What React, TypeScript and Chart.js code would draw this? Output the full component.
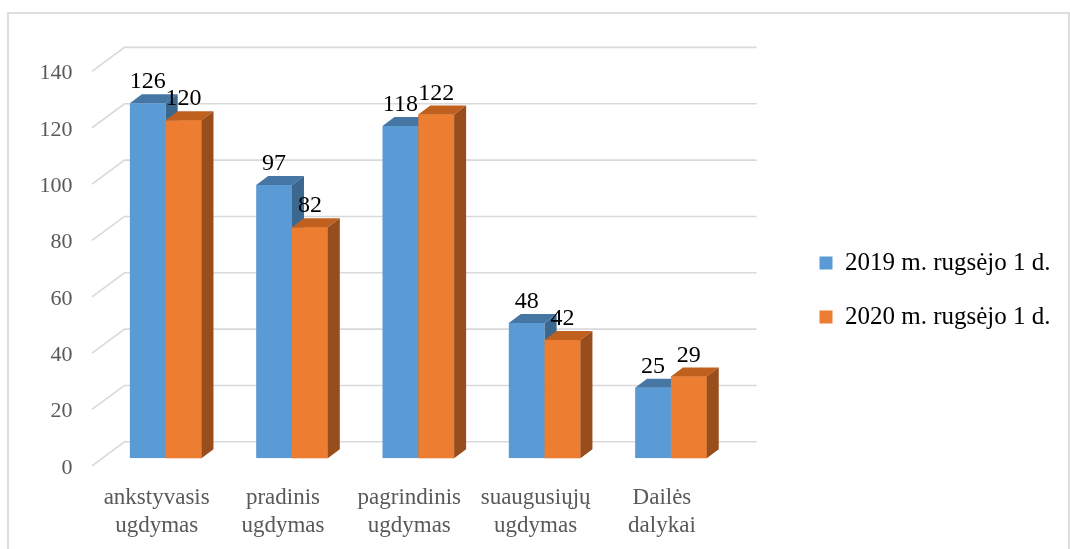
import React, { useEffect, useRef } from 'react';
import { Chart, registerables } from 'chart.js';

Chart.register(...registerables);

const categories: string[][] = [
  ['ankstyvasis', 'ugdymas'],
  ['pradinis', 'ugdymas'],
  ['pagrindinis', 'ugdymas'],
  ['suaugusiųjų', 'ugdymas'],
  ['Dailės', 'dalykai'],
];
const series2019: number[] = [126, 97, 118, 48, 25];
const series2020: number[] = [120, 82, 122, 42, 29];
const seriesNames: string[] = ['2019 m. rugsėjo 1 d.', '2020 m. rugsėjo 1 d.'];
const yMin = 0;
const yMax = 140;
const yStep = 20;

const FONT = "'Liberation Serif', 'Times New Roman', serif";
const FRONT = ['#5b9bd5', '#ed7d31'];
const TOP = ['#4676a4', '#bf601f'];
const SIDE = ['#3c6890', '#984d1c'];
const DX = 12;
const DY = -9;

const bar3d = {
  id: 'bar3d',
  beforeDatasetsDraw(chart: any) {
    const { ctx, chartArea } = chart;
    const y = chart.scales.y;
    ctx.save();
    ctx.strokeStyle = '#d9d9d9';
    ctx.lineWidth = 1.6;
    y.ticks.forEach((t: any) => {
      const py = y.getPixelForValue(t.value);
      ctx.beginPath();
      ctx.moveTo(chartArea.left - 10.5, py + 7.5);
      ctx.lineTo(chartArea.left + 22, py - 16.5);
      ctx.lineTo(chartArea.right + 22.5, py - 16.5);
      ctx.stroke();
    });
    ctx.restore();
  },
  afterDatasetsDraw(chart: any) {
    const ctx = chart.ctx;
    const faces = (di: number) => {
      const meta = chart.getDatasetMeta(di);
      meta.data.forEach((el: any) => {
        const { x, y, base, width } = el.getProps(['x', 'y', 'base', 'width'], true);
        const l = x - width / 2;
        const r = x + width / 2;
        ctx.save();
        ctx.fillStyle = TOP[di];
        ctx.beginPath();
        ctx.moveTo(l, y);
        ctx.lineTo(l + DX, y + DY);
        ctx.lineTo(r + DX, y + DY);
        ctx.lineTo(r, y);
        ctx.closePath();
        ctx.fill();
        ctx.fillStyle = SIDE[di];
        ctx.beginPath();
        ctx.moveTo(r, y);
        ctx.lineTo(r + DX, y + DY);
        ctx.lineTo(r + DX, base + DY);
        ctx.lineTo(r, base);
        ctx.closePath();
        ctx.fill();
        ctx.restore();
      });
    };
    faces(0);
    chart.getDatasetMeta(1).data.forEach((el: any) => el.draw(ctx));
    faces(1);
    ctx.save();
    ctx.fillStyle = '#000';
    ctx.font = `24px ${FONT}`;
    ctx.textAlign = 'center';
    ctx.textBaseline = 'alphabetic';
    [0, 1].forEach((di) => {
      const meta = chart.getDatasetMeta(di);
      const ds = chart.data.datasets[di];
      meta.data.forEach((el: any, i: number) => {
        const { x, y } = el.getProps(['x', 'y'], true);
        ctx.fillText(String(ds.data[i]), x, y - 15);
      });
    });
    ctx.restore();
  },
};

export default function App() {
  const ref = useRef<HTMLCanvasElement | null>(null);
  useEffect(() => {
    if (!ref.current) return;
    const chart = new Chart(ref.current, {
      type: 'bar',
      data: {
        labels: categories,
        datasets: [
          { label: seriesNames[0], data: series2019, backgroundColor: FRONT[0], borderWidth: 0, xAxisID: 'x', yAxisID: 'y' },
          { label: seriesNames[1], data: series2020, backgroundColor: FRONT[1], borderWidth: 0, xAxisID: 'x', yAxisID: 'y' },
        ],
      },
      options: {
        responsive: false,
        animation: false,
        devicePixelRatio: 1,
        layout: { padding: { left: 0, right: 16, top: 31, bottom: 0 } },
        datasets: { bar: { categoryPercentage: 0.567, barPercentage: 1 } },
        plugins: {
          legend: {
            position: 'right',
            labels: {
              boxWidth: 13,
              boxHeight: 13,
              padding: 29,
              color: '#000',
              font: { family: FONT, size: 25 },
            },
          },
          tooltip: { enabled: false },
          title: { display: false },
        },
        scales: {
          x: {
            position: 'bottom',
            grid: { display: false, drawTicks: false },
            border: { display: false },
            ticks: {
              color: '#595959',
              font: { family: FONT, size: 23, lineHeight: 1.2 },
              padding: 26,
              labelOffset: -9,
              maxRotation: 0,
              autoSkip: false,
            },
            afterFit: (s: any) => { s.height = 90.7; },
          },
          gapTop: {
            type: 'linear',
            axis: 'x',
            position: 'top',
            display: false,
            afterFit: (s: any) => { s.height = 32.9; },
          },
          y: {
            min: yMin,
            max: yMax,
            grid: { display: false, drawTicks: false },
            border: { display: false },
            ticks: {
              stepSize: yStep,
              color: '#595959',
              font: { family: FONT, size: 22 },
              padding: 30,
              labelOffset: 9.5,
            },
            afterFit: (s: any) => { s.width = 102.5; },
          },
          gapRight: {
            type: 'linear',
            axis: 'y',
            position: 'right',
            display: false,
            afterFit: (s: any) => { s.width = 56.4; },
          },
        },
      },
      plugins: [bar3d],
    } as any);
    return () => chart.destroy();
  }, []);
  return (
    <div style={{ position: 'absolute', left: 0, top: 0, width: 1070, height: 549, overflow: 'hidden', background: '#fff' }}>
      <div style={{ position: 'absolute', left: 7, top: 12, width: 1059, height: 560, border: '2px solid #dedede' }} />
      <canvas ref={ref} width={1070} height={549} style={{ position: 'absolute', left: 0, top: 0 }} />
    </div>
  );
}
